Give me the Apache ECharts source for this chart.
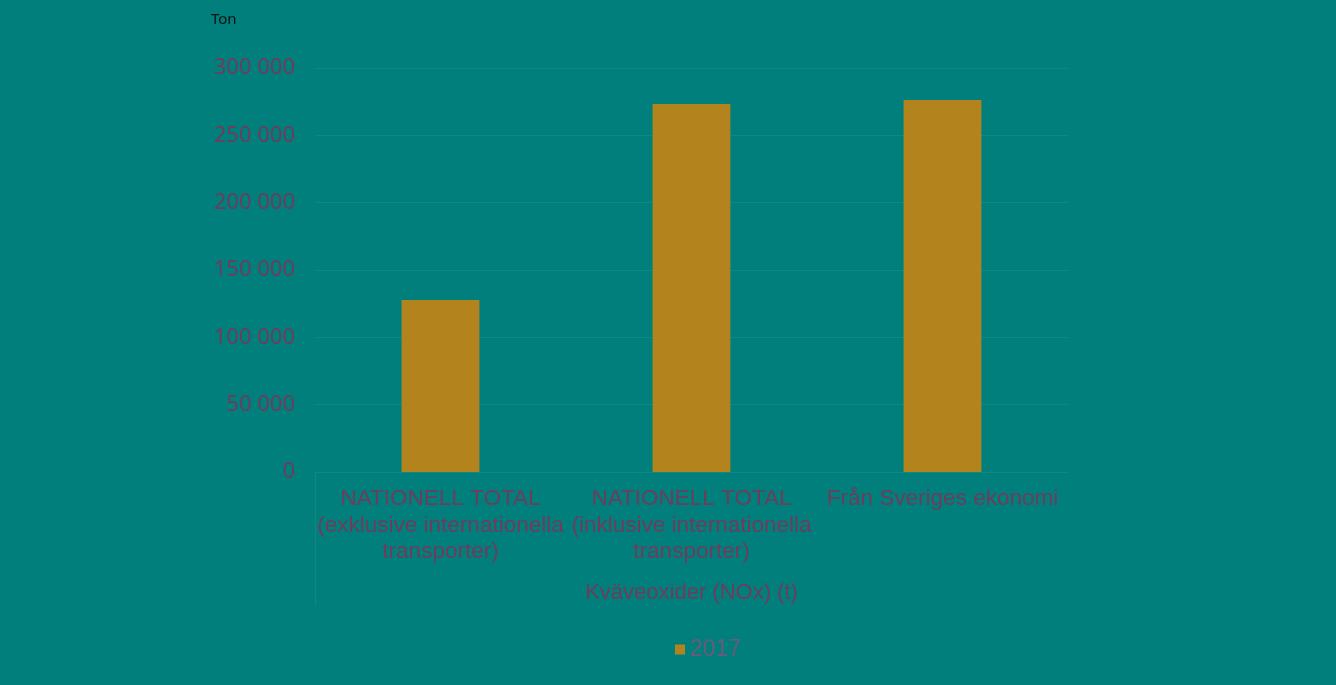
<!DOCTYPE html>
<html>
<head>
<meta charset="utf-8">
<script src="https://cdn.jsdelivr.net/npm/echarts@6/dist/echarts.min.js"></script>
<style>
html,body{margin:0;padding:0;background:#017f7d;}
#c{width:1336px;height:685px;}
</style>
</head>
<body>
<div id="c"></div>
<script>
const categories = [
  "NATIONELL TOTAL\n(exklusive internationella\ntransporter)",
  "NATIONELL TOTAL\n(inklusive internationella\ntransporter)",
  "Från Sveriges ekonomi"
];
const values2017 = [127800, 273200, 276200];
const seriesName = "2017";
const axisTitle = "Kväveoxider (NOx) (t)";
const unitLabel = "Ton";

const chart = echarts.init(document.getElementById('c'));
chart.setOption({
  backgroundColor: '#017f7d',
  animation: false,
  graphic: [
    { type: 'text', left: 211, top: 12, style: { text: unitLabel, fill: '#111', font: '15px "Noto Sans"' } },
    { type: 'line', shape: { x1: 315.5, y1: 472, x2: 315.5, y2: 606 }, style: { stroke: '#13877f', lineWidth: 1 } }
  ],
  grid: { left: 315, right: 268, top: 68, bottom: 213 },
  legend: {
    bottom: 19, left: 670,
    itemWidth: 10, itemHeight: 10, itemGap: 3,
    icon: 'rect',
    textStyle: { color: '#6b5a7a', fontSize: 23, fontFamily: 'Liberation Sans' },
    data: [seriesName]
  },
  xAxis: {
    type: 'category',
    data: categories,
    name: axisTitle,
    nameLocation: 'middle',
    nameGap: 110,
    nameTextStyle: { color: '#6e3d5c', fontSize: 22, fontFamily: 'Liberation Sans' },
    axisLine: { show: true, lineStyle: { color: '#13877f' } },
    axisTick: { show: false },
    axisLabel: { color: '#6e3d5c', fontSize: 22.5, fontFamily: 'Liberation Sans', lineHeight: 26.5, margin: 14, interval: 0 }
  },
  yAxis: {
    type: 'value',
    min: 0, max: 300000, interval: 50000,
    axisLine: { show: false },
    axisTick: { show: false },
    splitLine: { lineStyle: { color: '#13877f' } },
    axisLabel: {
      color: '#6e3d5c', fontSize: 22, fontFamily: 'Noto Sans', margin: 20, padding: [3, 0, 0, 0],
      formatter: v => v === 0 ? '0' : String(v).replace(/\B(?=(\d{3})+(?!\d))/g, ' ')
    }
  },
  series: [{
    name: seriesName,
    type: 'bar',
    data: values2017,
    barWidth: '31%',
    itemStyle: { color: '#b3841e' }
  }]
});
</script>
</body>
</html>
